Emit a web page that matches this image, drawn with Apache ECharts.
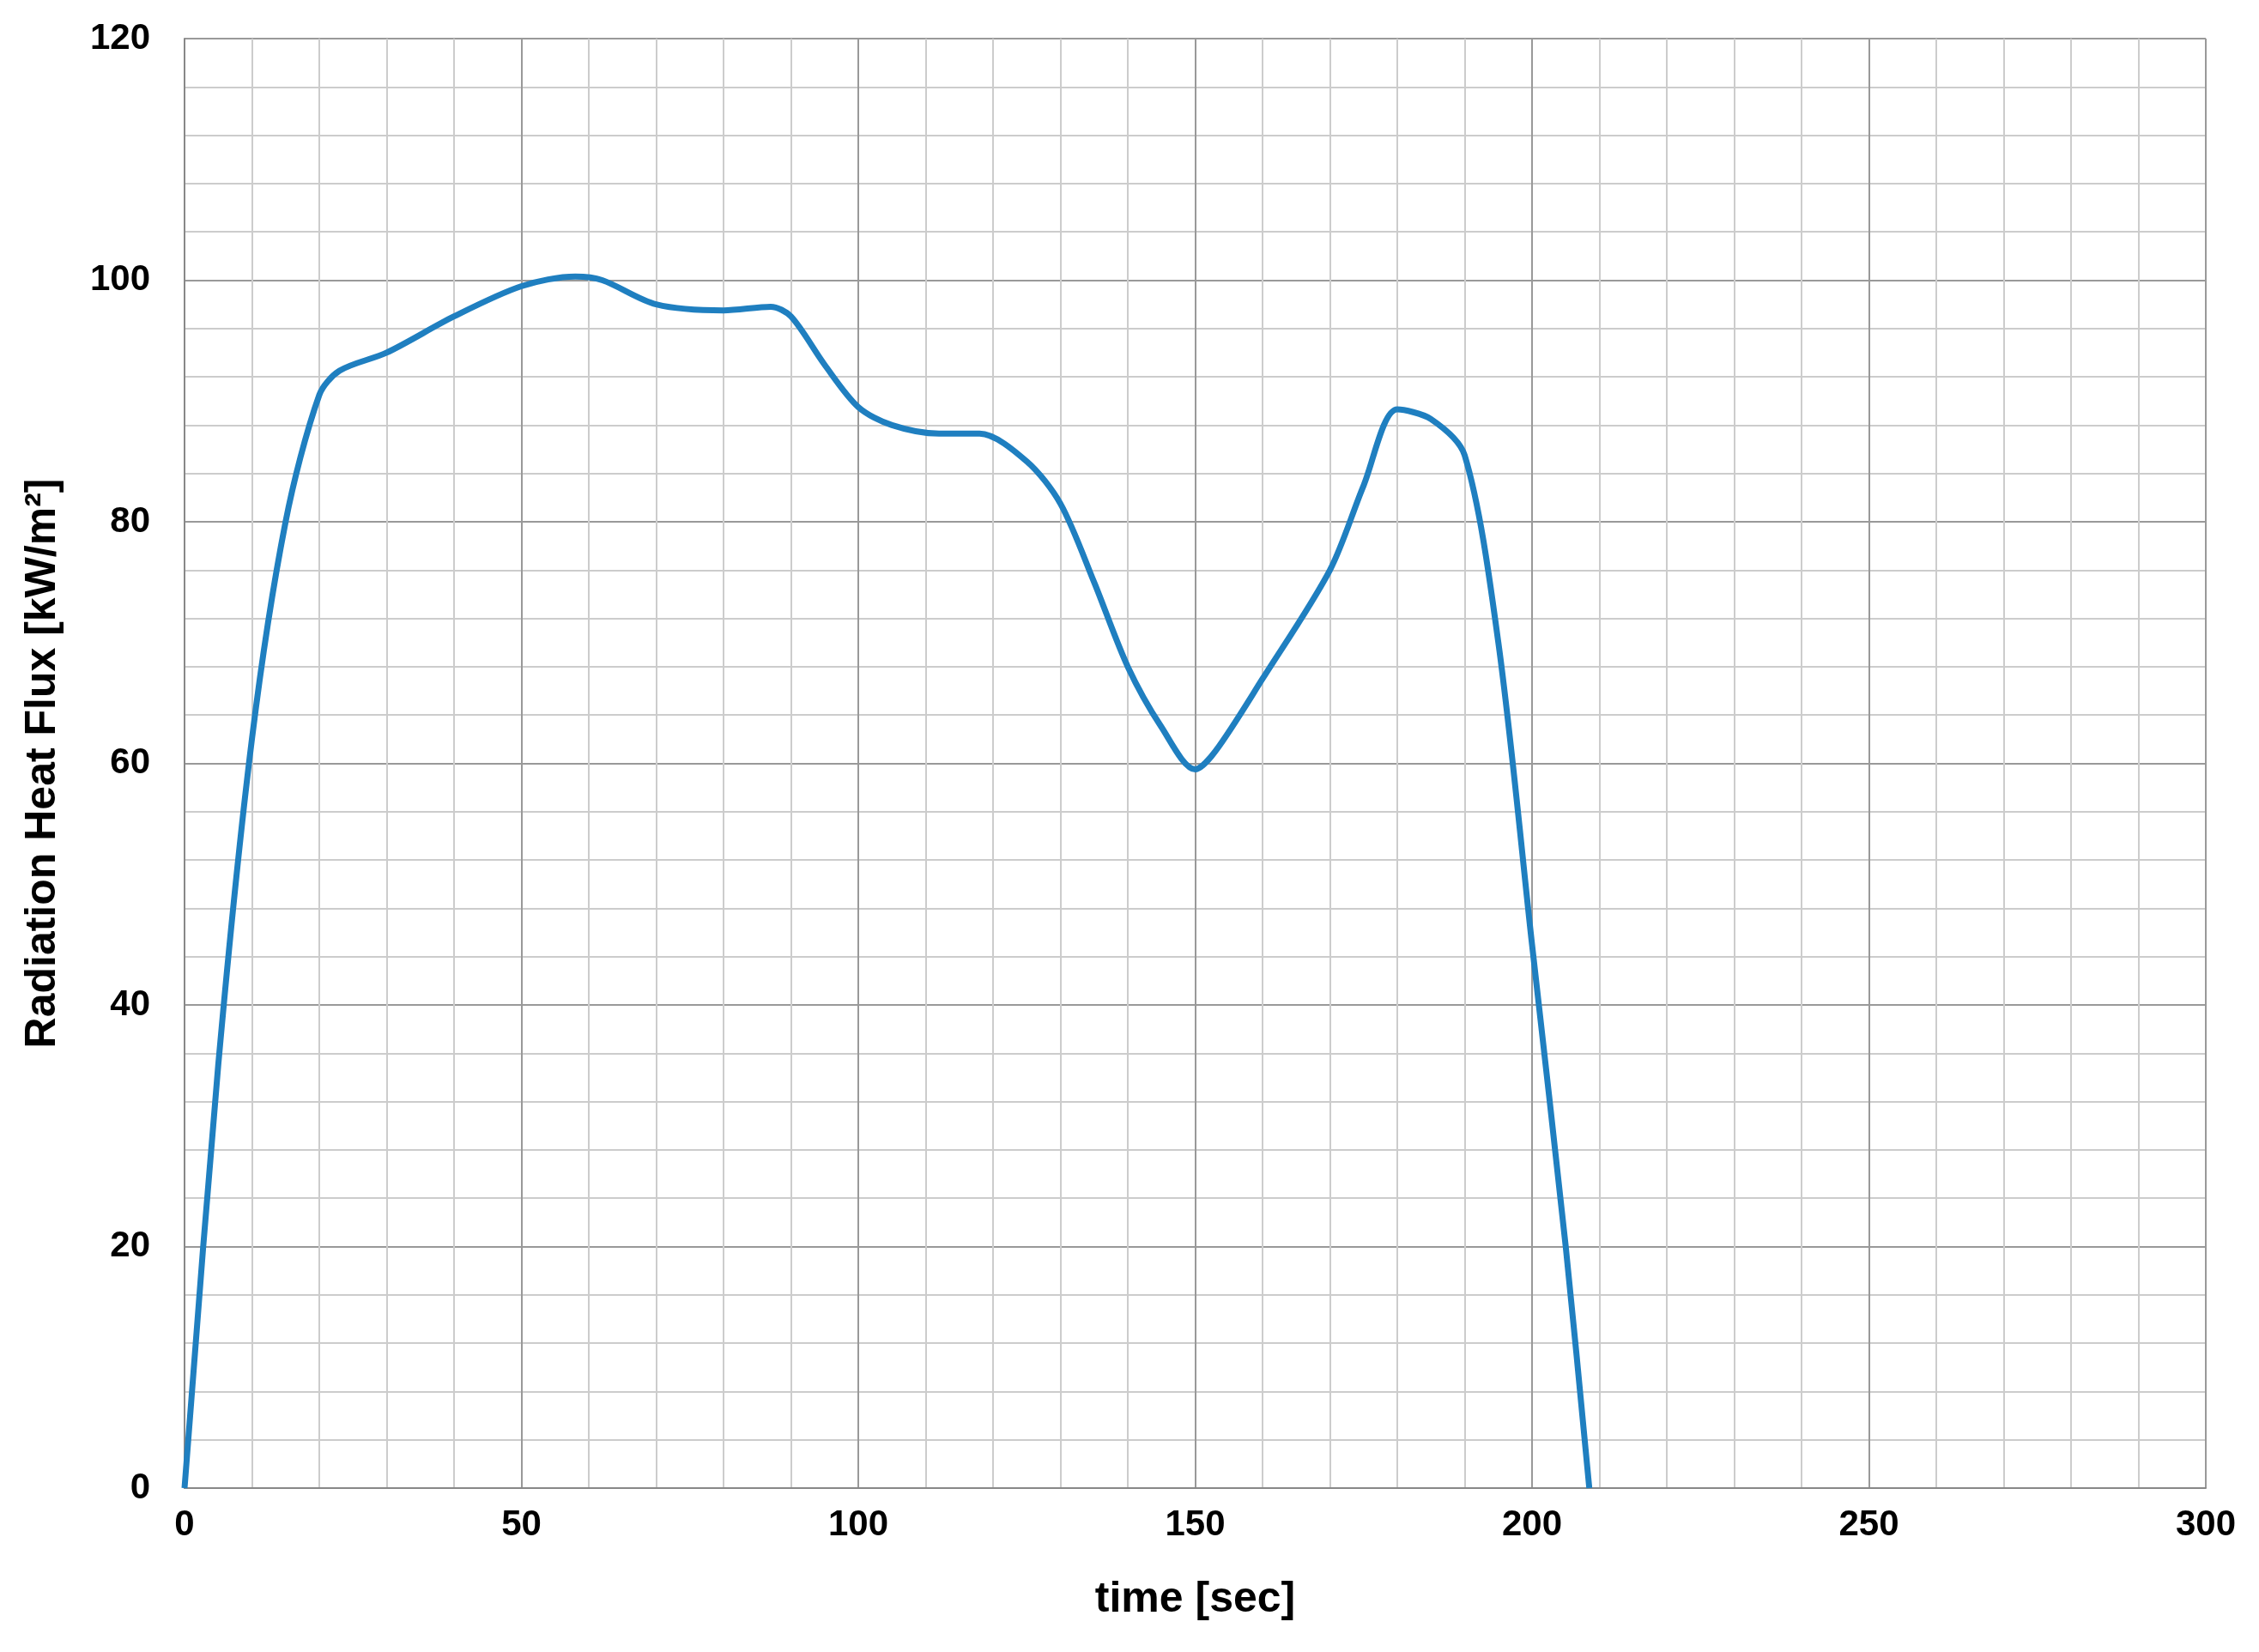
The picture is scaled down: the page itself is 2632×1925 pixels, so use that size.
<!DOCTYPE html>
<html>
<head>
<meta charset="utf-8">
<script src="https://cdn.jsdelivr.net/npm/echarts@6/dist/echarts.min.js"></script>
<style>
html, body { margin: 0; padding: 0; background: #fff; }
#chart { width: 2632px; height: 1925px; }
</style>
</head>
<body>
<div id="chart"></div>
<script>
// time [sec] and radiation heat flux [kW/m2]
var times = [0, 5, 10, 15, 20, 23, 30, 40, 50, 58, 62, 70, 80, 87, 90, 95, 100, 105, 112, 118, 125, 130, 135, 140, 145, 150, 153, 160, 170, 175, 180, 185, 190, 195, 200, 205, 208.5];
var flux = [0, 35, 62, 80, 90.5, 92.5, 94, 97, 99.5, 100.3, 100, 98, 97.5, 97.8, 97, 93, 89.5, 88, 87.3, 87.3, 85, 81.5, 75, 68, 63, 59.5, 61, 67, 76, 83, 89.3, 88.5, 85.5, 70, 45, 20, 0];

var points = times.map(function (t, i) { return [t, flux[i]]; });

var labelFont = { fontFamily: 'Liberation Sans', fontWeight: 'bold', fontSize: 42, color: '#000' };
var nameFont = { fontFamily: 'Liberation Sans', fontWeight: 'bold', fontSize: 50, color: '#000' };

var chart = echarts.init(document.getElementById('chart'));
chart.setOption({
    animation: false,
    grid: { left: 215, right: 62, top: 45, bottom: 191 },
    xAxis: {
        type: 'value',
        min: 0, max: 300, interval: 50,
        name: 'time [sec]',
        nameLocation: 'middle',
        nameGap: 105,
        nameTextStyle: nameFont,
        axisLabel: Object.assign({ margin: 22 }, labelFont),
        axisLine: { lineStyle: { color: '#888', width: 2 } },
        axisTick: { show: false },
        splitLine: { lineStyle: { color: '#999', width: 2 } },
        minorTick: { show: false, splitNumber: 5 },
        minorSplitLine: { show: true, lineStyle: { color: '#ccc', width: 2 } }
    },
    yAxis: {
        type: 'value',
        min: 0, max: 120, interval: 20,
        name: 'Radiation Heat Flux [kW/m²]',
        nameLocation: 'middle',
        nameGap: 140,
        nameTextStyle: nameFont,
        axisLabel: Object.assign({ margin: 40 }, labelFont),
        axisLine: { show: true, lineStyle: { color: '#888', width: 2 } },
        axisTick: { show: false },
        splitLine: { lineStyle: { color: '#999', width: 2 } },
        minorTick: { show: false, splitNumber: 5 },
        minorSplitLine: { show: true, lineStyle: { color: '#ccc', width: 2 } }
    },
    series: [{
        type: 'line',
        data: points,
        smooth: 0.3,
        showSymbol: false,
        lineStyle: { color: '#1f7fc0', width: 7 }
    }]
});
</script>
</body>
</html>
